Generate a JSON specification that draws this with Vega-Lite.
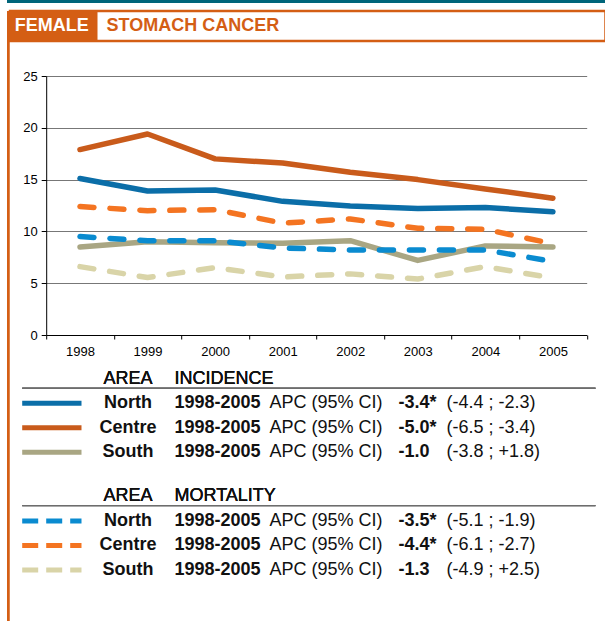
{
  "$schema": "https://vega.github.io/schema/vega-lite/v6.json",
  "padding": {"left": 7, "top": 0, "right": 0, "bottom": 0},
  "background": "white",
  "config": {"font": "Liberation Sans", "view": {"stroke": null}},
  "datasets": {
    "rates": [
      {"year": 1998, "measure": "Incidence", "area": "North", "rate": 15.1},
      {"year": 1999, "measure": "Incidence", "area": "North", "rate": 13.9},
      {"year": 2000, "measure": "Incidence", "area": "North", "rate": 14.0},
      {"year": 2001, "measure": "Incidence", "area": "North", "rate": 12.9},
      {"year": 2002, "measure": "Incidence", "area": "North", "rate": 12.45},
      {"year": 2003, "measure": "Incidence", "area": "North", "rate": 12.2},
      {"year": 2004, "measure": "Incidence", "area": "North", "rate": 12.3},
      {"year": 2005, "measure": "Incidence", "area": "North", "rate": 11.9},
      {"year": 1998, "measure": "Incidence", "area": "Centre", "rate": 17.9},
      {"year": 1999, "measure": "Incidence", "area": "Centre", "rate": 19.4},
      {"year": 2000, "measure": "Incidence", "area": "Centre", "rate": 17.0},
      {"year": 2001, "measure": "Incidence", "area": "Centre", "rate": 16.6},
      {"year": 2002, "measure": "Incidence", "area": "Centre", "rate": 15.7},
      {"year": 2003, "measure": "Incidence", "area": "Centre", "rate": 15.0},
      {"year": 2004, "measure": "Incidence", "area": "Centre", "rate": 14.1},
      {"year": 2005, "measure": "Incidence", "area": "Centre", "rate": 13.2},
      {"year": 1998, "measure": "Incidence", "area": "South", "rate": 8.5},
      {"year": 1999, "measure": "Incidence", "area": "South", "rate": 9.0},
      {"year": 2000, "measure": "Incidence", "area": "South", "rate": 8.9},
      {"year": 2001, "measure": "Incidence", "area": "South", "rate": 8.85},
      {"year": 2002, "measure": "Incidence", "area": "South", "rate": 9.1},
      {"year": 2003, "measure": "Incidence", "area": "South", "rate": 7.2},
      {"year": 2004, "measure": "Incidence", "area": "South", "rate": 8.6},
      {"year": 2005, "measure": "Incidence", "area": "South", "rate": 8.5},
      {"year": 1998, "measure": "Mortality", "area": "North", "rate": 9.5},
      {"year": 1999, "measure": "Mortality", "area": "North", "rate": 9.1},
      {"year": 2000, "measure": "Mortality", "area": "North", "rate": 9.1},
      {"year": 2001, "measure": "Mortality", "area": "North", "rate": 8.4},
      {"year": 2002, "measure": "Mortality", "area": "North", "rate": 8.2},
      {"year": 2003, "measure": "Mortality", "area": "North", "rate": 8.2},
      {"year": 2004, "measure": "Mortality", "area": "North", "rate": 8.2},
      {"year": 2005, "measure": "Mortality", "area": "North", "rate": 7.1},
      {"year": 1998, "measure": "Mortality", "area": "Centre", "rate": 12.4},
      {"year": 1999, "measure": "Mortality", "area": "Centre", "rate": 12.0},
      {"year": 2000, "measure": "Mortality", "area": "Centre", "rate": 12.1},
      {"year": 2001, "measure": "Mortality", "area": "Centre", "rate": 10.8},
      {"year": 2002, "measure": "Mortality", "area": "Centre", "rate": 11.2},
      {"year": 2003, "measure": "Mortality", "area": "Centre", "rate": 10.3},
      {"year": 2004, "measure": "Mortality", "area": "Centre", "rate": 10.2},
      {"year": 2005, "measure": "Mortality", "area": "Centre", "rate": 8.8},
      {"year": 1998, "measure": "Mortality", "area": "South", "rate": 6.6},
      {"year": 1999, "measure": "Mortality", "area": "South", "rate": 5.55},
      {"year": 2000, "measure": "Mortality", "area": "South", "rate": 6.5},
      {"year": 2001, "measure": "Mortality", "area": "South", "rate": 5.6},
      {"year": 2002, "measure": "Mortality", "area": "South", "rate": 5.9},
      {"year": 2003, "measure": "Mortality", "area": "South", "rate": 5.4},
      {"year": 2004, "measure": "Mortality", "area": "South", "rate": 6.6},
      {"year": 2005, "measure": "Mortality", "area": "South", "rate": 5.5}
    ],
    "apc": [
      {"measure": "Incidence", "area": "North", "period": "1998-2005", "stat": "APC (95% CI)", "value": "-3.4*", "ci": "(-4.4 ; -2.3)"},
      {"measure": "Incidence", "area": "Centre", "period": "1998-2005", "stat": "APC (95% CI)", "value": "-5.0*", "ci": "(-6.5 ; -3.4)"},
      {"measure": "Incidence", "area": "South", "period": "1998-2005", "stat": "APC (95% CI)", "value": "-1.0", "ci": "(-3.8 ; +1.8)"},
      {"measure": "Mortality", "area": "North", "period": "1998-2005", "stat": "APC (95% CI)", "value": "-3.5*", "ci": "(-5.1 ; -1.9)"},
      {"measure": "Mortality", "area": "Centre", "period": "1998-2005", "stat": "APC (95% CI)", "value": "-4.4*", "ci": "(-6.1 ; -2.7)"},
      {"measure": "Mortality", "area": "South", "period": "1998-2005", "stat": "APC (95% CI)", "value": "-1.3", "ci": "(-4.9 ; +2.5)"}
    ]
  },
  "bounds": "flush",
  "spacing": 8,
  "resolve": {"scale": {"color": "independent"}},
  "vconcat": [
    {
      "width": 598, "height": 3,
      "view": {"fill": "#00657a", "stroke": null},
      "data": {"values": [{"band": "top"}]},
      "mark": {"type": "rect", "color": "#00657a"},
      "encoding": {}
    },
    {
      "bounds": "flush",
      "spacing": 0,
      "resolve": {"scale": {"color": "independent"}},
      "hconcat": [
        {
          "width": 2.5, "height": 610,
          "view": {"fill": "#d45e14", "stroke": null},
          "data": {"values": [{"band": "left"}]},
          "mark": {"type": "rect", "color": "#d45e14"},
          "encoding": {}
        },
        {
          "bounds": "flush",
          "spacing": 35,
          "resolve": {"scale": {"color": "independent"}},
          "vconcat": [
            {
              "width": 595.5, "height": 30,
              "view": {"stroke": "#d45e14", "strokeWidth": 2.5, "fill": "white"},
              "data": {"values": [{"part": "FEMALE"}, {"part": "STOMACH CANCER"}]},
              "encoding": {
                "x": {"field": "part", "type": "nominal", "scale": {"type": "band", "domain": ["FEMALE", "STOMACH CANCER"], "paddingInner": 0, "paddingOuter": 0, "rangeMax": 175}, "axis": null}
              },
              "layer": [
                {"transform": [{"filter": "datum.part == 'FEMALE'"}], "mark": {"type": "rect", "color": "#d45e14"}},
                {"transform": [{"filter": "datum.part == 'FEMALE'"}], "mark": {"type": "text", "color": "white", "fontWeight": "bold", "fontSize": 18, "baseline": "middle", "align": "center", "dx": -2}, "encoding": {"text": {"field": "part"}}},
                {"transform": [{"filter": "datum.part == 'STOMACH CANCER'"}], "mark": {"type": "text", "color": "#d45e14", "fontWeight": "bold", "fontSize": 18, "baseline": "middle", "align": "left", "dx": 9}, "encoding": {"text": {"field": "part"}, "x": {"field": "part", "type": "nominal", "bandPosition": 0}}}
              ]
            },
            {
              "bounds": "flush",
              "spacing": 35.2,
              "resolve": {"scale": {"color": "independent"}},
              "hconcat": [
                {"width": 1, "height": 1, "data": {"values": []}, "mark": "point"},
                {
                  "bounds": "flush",
                  "spacing": 31.5,
                  "resolve": {"scale": {"color": "independent"}},
                  "vconcat": [
                    {
                      "width": 540.5, "height": 259,
                      "data": {"name": "rates"},
                      "encoding": {
                        "x": {"field": "year", "type": "ordinal", "scale": {"type": "band", "paddingInner": 0, "paddingOuter": 0},
                          "axis": {"title": null, "tickBand": "extent", "labelAngle": 0, "domainColor": "black", "tickColor": "black", "tickSize": 4, "labelFontSize": 13, "labelColor": "black", "labelPadding": 6, "grid": false}},
                        "y": {"field": "rate", "type": "quantitative", "scale": {"domain": [0, 25], "nice": false},
                          "axis": {"title": null, "values": [0, 5, 10, 15, 20, 25], "grid": true, "gridColor": "#777777", "domainColor": "black", "tickColor": "black", "tickSize": 5, "labelPadding": 4, "labelFontSize": 13, "labelColor": "black"}}
                      },
                      "layer": [
                        {"transform": [{"filter": "datum.measure == 'Incidence'"}],
                         "mark": {"type": "line", "strokeWidth": 5.5, "strokeCap": "round", "strokeJoin": "round"},
                         "encoding": {"color": {"field": "area", "type": "nominal", "scale": {"domain": ["North", "Centre", "South"], "range": ["#0b6ea8", "#c95b1b", "#a9a683"]}, "legend": null}}},
                        {"transform": [{"filter": "datum.measure == 'Mortality'"}],
                         "mark": {"type": "line", "strokeWidth": 5.5, "strokeCap": "round", "strokeJoin": "round", "strokeDash": [14, 16]},
                         "encoding": {"color": {"field": "area", "type": "nominal", "scale": {"domain": ["North", "Centre", "South"], "range": ["#0a8bd0", "#f47421", "#d9d4a8"]}, "legend": null}}}
                      ],
                      "resolve": {"scale": {"color": "independent"}}
                    },
                    {
                      "bounds": "flush",
                      "spacing": 19.7,
                      "resolve": {"scale": {"color": "independent"}},
                      "vconcat": [
                        {
                          "width": 559.3, "height": 98,
                          "data": {"name": "apc"},
                          "transform": [{"filter": "datum.measure == 'Incidence'"}],
                          "encoding": {
                            "y": {"field": "area", "type": "nominal", "scale": {"type": "point", "domain": ["hdr", "North", "Centre", "South"], "padding": 0.5}, "axis": null}
                          },
                          "layer": [
                            {"mark": {"type": "rule", "strokeWidth": 5, "xOffset": -24, "x2Offset": -11.31},
                             "encoding": {
                               "x": {"datum": "key", "type": "nominal", "bandPosition": 0, "scale": {"type": "band", "domain": ["key", "area", "period", "apc", "value", "ci"], "paddingInner": 0, "paddingOuter": 0}, "axis": null},
                               "x2": {"datum": "key"},
                               "color": {"field": "area", "type": "nominal", "scale": {"domain": ["North", "Centre", "South"], "range": ["#0b6ea8", "#c95b1b", "#a9a683"]}, "legend": null}}},
                            {"mark": {"type": "rule", "strokeWidth": 1.3, "color": "#6d6d6d", "xOffset": -24, "x2Offset": 36.61, "yOffset": 9.5},
                             "encoding": {"x": {"datum": "key", "type": "nominal", "bandPosition": 0}, "x2": {"datum": "ci"}, "y": {"datum": "hdr", "type": "nominal"}}},
                            {"mark": {"type": "text", "text": "AREA", "fontSize": 18, "color": "#111111", "align": "center", "baseline": "middle", "dx": -11.42},
                             "encoding": {"x": {"datum": "area", "type": "nominal", "bandPosition": 0}, "y": {"datum": "hdr", "type": "nominal"}}},
                            {"mark": {"type": "text", "text": "INCIDENCE", "fontSize": 18, "color": "#111111", "align": "left", "baseline": "middle", "dx": -58.13},
                             "encoding": {"x": {"datum": "period", "type": "nominal", "bandPosition": 0}, "y": {"datum": "hdr", "type": "nominal"}}},
                            {"mark": {"type": "text", "fontSize": 18, "fontWeight": "bold", "color": "#111111", "align": "center", "baseline": "middle", "dx": -11.42},
                             "encoding": {"x": {"datum": "area", "type": "nominal", "bandPosition": 0}, "text": {"field": "area"}}},
                            {"mark": {"type": "text", "fontSize": 18, "fontWeight": "bold", "color": "#111111", "align": "left", "baseline": "middle", "dx": -58.13},
                             "encoding": {"x": {"datum": "period", "type": "nominal", "bandPosition": 0}, "text": {"field": "period"}}},
                            {"mark": {"type": "text", "fontSize": 18, "color": "#111111", "align": "left", "baseline": "middle", "dx": -56.35},
                             "encoding": {"x": {"datum": "apc", "type": "nominal", "bandPosition": 0}, "text": {"field": "stat"}}},
                            {"mark": {"type": "text", "fontSize": 18, "fontWeight": "bold", "color": "#111111", "align": "left", "baseline": "middle", "dx": -20.57},
                             "encoding": {"x": {"datum": "value", "type": "nominal", "bandPosition": 0}, "text": {"field": "value"}}},
                            {"mark": {"type": "text", "fontSize": 18, "color": "#111111", "align": "left", "baseline": "middle", "dx": -65.78},
                             "encoding": {"x": {"datum": "ci", "type": "nominal", "bandPosition": 0}, "text": {"field": "ci"}}}
                          ]
                        },
                        {
                          "width": 559.3, "height": 98,
                          "data": {"name": "apc"},
                          "transform": [{"filter": "datum.measure == 'Mortality'"}],
                          "encoding": {
                            "y": {"field": "area", "type": "nominal", "scale": {"type": "point", "domain": ["hdr", "North", "Centre", "South"], "padding": 0.5}, "axis": null}
                          },
                          "layer": [
                            {"mark": {"type": "rule", "strokeWidth": 5, "strokeDash": [16, 8], "xOffset": -24, "x2Offset": -11.31},
                             "encoding": {
                               "x": {"datum": "key", "type": "nominal", "bandPosition": 0, "scale": {"type": "band", "domain": ["key", "area", "period", "apc", "value", "ci"], "paddingInner": 0, "paddingOuter": 0}, "axis": null},
                               "x2": {"datum": "key"},
                               "color": {"field": "area", "type": "nominal", "scale": {"domain": ["North", "Centre", "South"], "range": ["#0a8bd0", "#f47421", "#d9d4a8"]}, "legend": null}}},
                            {"mark": {"type": "rule", "strokeWidth": 1.3, "color": "#6d6d6d", "xOffset": -24, "x2Offset": 36.61, "yOffset": 9.2},
                             "encoding": {"x": {"datum": "key", "type": "nominal", "bandPosition": 0}, "x2": {"datum": "ci"}, "y": {"datum": "hdr", "type": "nominal"}}},
                            {"mark": {"type": "text", "text": "AREA", "fontSize": 18, "color": "#111111", "align": "center", "baseline": "middle", "dx": -11.42},
                             "encoding": {"x": {"datum": "area", "type": "nominal", "bandPosition": 0}, "y": {"datum": "hdr", "type": "nominal"}}},
                            {"mark": {"type": "text", "text": "MORTALITY", "fontSize": 18, "color": "#111111", "align": "left", "baseline": "middle", "dx": -58.13},
                             "encoding": {"x": {"datum": "period", "type": "nominal", "bandPosition": 0}, "y": {"datum": "hdr", "type": "nominal"}}},
                            {"mark": {"type": "text", "fontSize": 18, "fontWeight": "bold", "color": "#111111", "align": "center", "baseline": "middle", "dx": -11.42},
                             "encoding": {"x": {"datum": "area", "type": "nominal", "bandPosition": 0}, "text": {"field": "area"}}},
                            {"mark": {"type": "text", "fontSize": 18, "fontWeight": "bold", "color": "#111111", "align": "left", "baseline": "middle", "dx": -58.13},
                             "encoding": {"x": {"datum": "period", "type": "nominal", "bandPosition": 0}, "text": {"field": "period"}}},
                            {"mark": {"type": "text", "fontSize": 18, "color": "#111111", "align": "left", "baseline": "middle", "dx": -56.35},
                             "encoding": {"x": {"datum": "apc", "type": "nominal", "bandPosition": 0}, "text": {"field": "stat"}}},
                            {"mark": {"type": "text", "fontSize": 18, "fontWeight": "bold", "color": "#111111", "align": "left", "baseline": "middle", "dx": -20.57},
                             "encoding": {"x": {"datum": "value", "type": "nominal", "bandPosition": 0}, "text": {"field": "value"}}},
                            {"mark": {"type": "text", "fontSize": 18, "color": "#111111", "align": "left", "baseline": "middle", "dx": -65.78},
                             "encoding": {"x": {"datum": "ci", "type": "nominal", "bandPosition": 0}, "text": {"field": "ci"}}}
                          ]
                        }
                      ]
                    }
                  ]
                }
              ]
            }
          ]
        }
      ]
    }
  ]
}
